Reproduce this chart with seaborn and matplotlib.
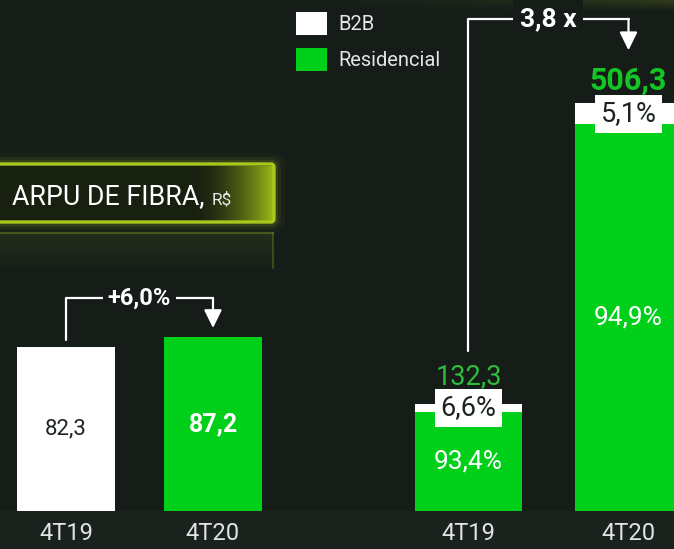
import numpy as np
import pandas as pd
import seaborn as sns
import matplotlib.pyplot as plt
from matplotlib.patches import Rectangle, FancyBboxPatch
from matplotlib.colors import to_rgb

# data
quarters = ['4T19', '4T20']
arpu = [82.3, 87.2]
arpu_growth = '+6,0%'

base_total = [132.3, 506.3]
b2b_share = [6.6, 5.1]
res_share = [93.4, 94.9]
base_growth = '3,8 x'

BG = '#161d19'
GREEN = '#00d01a'
LIME = '#a8c81c'
DARK = '#1d2420'


def br(v, fmt='{:.1f}'):
    # brazilian decimal comma
    return fmt.format(v).replace('.', ',')


sns.set_theme(style='dark', rc={'axes.facecolor': BG, 'figure.facecolor': BG})
plt.rcParams['font.family'] = ['Roboto', 'DejaVu Sans']

W, H = 674, 549
fig = plt.figure(figsize=(W / 100, H / 100), dpi=100, facecolor=BG)


def px_axes(x0, y0, x1, y1):
    return fig.add_axes([x0 / W, 1 - y1 / H, (x1 - x0) / W, (y1 - y0) / H])


# ---- background decoration: title box, legend, glow
bg = px_axes(0, 0, W, H)
bg.axis('off')

bg.add_patch(Rectangle((0, 511), W, 40, fc='#1a221e', lw=0))

top = np.zeros((12, 200, 4))
top[..., :3] = to_rgb(LIME)
top[..., 3] = (np.linspace(0.0, 1.0, 200) ** 2)[None, :] * np.linspace(0.18, 0, 12)[:, None]
bg.imshow(top, extent=(200, W, 12, 0), aspect='auto', zorder=1)

for lw, a in [(16, .04), (10, .07), (6, .12)]:
    bg.add_patch(FancyBboxPatch((-10, 164), 284, 58, boxstyle='round,pad=0,rounding_size=3',
                                fill=False, ec=LIME, lw=lw, alpha=a, zorder=2))
bg.add_patch(FancyBboxPatch((-10, 164), 284, 58, boxstyle='round,pad=0,rounding_size=3',
                            fc='#18200f', ec=LIME, lw=2.4, zorder=3))
grad = np.zeros((1, 120, 4))
grad[..., :3] = to_rgb(LIME)
grad[..., 3] = np.linspace(0, 0.95, 120) ** 1.8
bg.imshow(grad, extent=(190, 273, 221, 166), aspect='auto', zorder=4)

bg.text(12, 204, 'ARPU DE FIBRA,', color='white', fontsize=19.3, va='baseline', zorder=5)
bg.text(212, 204, 'R$', color='#e8e8e8', fontsize=12.5, va='baseline', zorder=5)

# faint reflection under the title box
bg.plot([0, 273], [233, 233], color=LIME, lw=1.5, alpha=0.3, zorder=2)
refl = np.zeros((40, 1, 4))
refl[..., :3] = to_rgb(LIME)
refl[..., 3] = np.linspace(0.10, 0, 40)[:, None]
bg.imshow(refl, extent=(0, 273, 273, 233), aspect='auto', zorder=1)
bg.plot([273, 273], [233, 268], color=LIME, lw=1.5, alpha=0.25, zorder=2)

bg.add_patch(Rectangle((296, 12), 31, 23, fc='white', lw=0))
bg.add_patch(Rectangle((296, 48), 31, 23, fc=GREEN, lw=0))
bg.text(338, 24, 'B2B', color='#e6e6e6', fontsize=14.5, va='center')
bg.text(338, 60, 'Residencial', color='#e6e6e6', fontsize=14.5, va='center')

bg.set_xlim(0, W)
bg.set_ylim(H, 0)

# ---- left panel: ARPU
ax1 = px_axes(0, 0, 300, 511)
ax1.set_facecolor('none')
df_arpu = pd.DataFrame({'trimestre': quarters, 'arpu': arpu})
sns.barplot(data=df_arpu, x='trimestre', y='arpu', hue='trimestre',
            palette=['white', GREEN], width=0.667, saturation=1,
            linewidth=0, legend=False, ax=ax1)
ax1.set_xlim(-66 / 147, (300 - 66) / 147)
ax1.set_ylim(0, 511 / 1.995)

ax1.text(0, arpu[0] / 2, br(arpu[0]), color=DARK, fontsize=16,
         ha='center', va='center')
ax1.text(1, arpu[1] / 2, br(arpu[1]), color='white', fontsize=18,
         fontweight='bold', ha='center', va='center')

y_top = max(arpu) + 19.6
ax1.plot([0, 0, 1], [arpu[0] + 3.4, y_top, y_top], color='white', lw=1.6)
ax1.annotate('', xy=(1, arpu[1] + 4.5), xytext=(1, y_top),
             arrowprops=dict(arrowstyle='-|>,head_width=0.27,head_length=0.55',
                             color='white', lw=1.6, mutation_scale=20,
                             shrinkA=0, shrinkB=0))
ax1.text(0.5, y_top, arpu_growth, color='white', fontsize=17, fontweight='bold',
         ha='center', va='center',
         bbox=dict(boxstyle='square,pad=0.2', fc=BG, ec='none'))

# ---- right panel: base total split B2B / Residencial
ax2 = px_axes(400, 0, W, 511)
ax2.set_facecolor('none')
res_vals = [t * r / 100 for t, r in zip(base_total, res_share)]
df_base = pd.DataFrame({'trimestre': quarters, 'total': base_total, 'res': res_vals})
sns.barplot(data=df_base, x='trimestre', y='total', color='white',
            width=0.669, saturation=1, linewidth=0, ax=ax2)
sns.barplot(data=df_base, x='trimestre', y='res', color=GREEN,
            width=0.669, saturation=1, linewidth=0, ax=ax2)
ax2.set_xlim(-68.5 / 160, (W - 468.5) / 160)
ax2.set_ylim(0, 511 / 0.805)

for i in range(len(quarters)):
    r = res_vals[i]
    mid_b2b = r + (base_total[i] - r) / 2
    ax2.text(i, r / 2, br(res_share[i]) + '%', color='white', fontsize=19,
             ha='center', va='center')
    ax2.text(i, mid_b2b, br(b2b_share[i]) + '%', color=DARK, fontsize=19.5,
             ha='center', va='center',
             bbox=dict(boxstyle='square,pad=0.2', fc='white', ec='none'))
    last = i == len(quarters) - 1
    ax2.annotate(br(base_total[i]), xy=(i, mid_b2b), xytext=(0, 17.5),
                 textcoords='offset points', ha='center', va='baseline',
                 color='#14c526' if last else '#2dbf3a',
                 fontsize=22 if last else 19.5,
                 fontweight='bold' if last else 'normal')

y_top2 = base_total[1] + 105
ax2.plot([0, 0, 1], [base_total[0] + 66, y_top2, y_top2], color='white', lw=1.6)
ax2.annotate('', xy=(1, base_total[1] + 66), xytext=(1, y_top2),
             arrowprops=dict(arrowstyle='-|>,head_width=0.27,head_length=0.55',
                             color='white', lw=1.6, mutation_scale=20,
                             shrinkA=0, shrinkB=0))
ax2.text(0.497, y_top2, base_growth, color='white', fontsize=19, fontweight='bold',
         ha='center', va='center',
         bbox=dict(boxstyle='square,pad=0.25', fc=BG, ec='none'))

for ax in (ax1, ax2):
    ax.set_xlabel('')
    ax.set_ylabel('')
    ax.set_yticks([])
    ax.tick_params(axis='x', length=0, pad=8, labelsize=17, colors='#e3e3e3')
    ax.grid(False)
    sns.despine(ax=ax, left=True, bottom=True)

fig.savefig('out.png', dpi=100, facecolor=BG)
